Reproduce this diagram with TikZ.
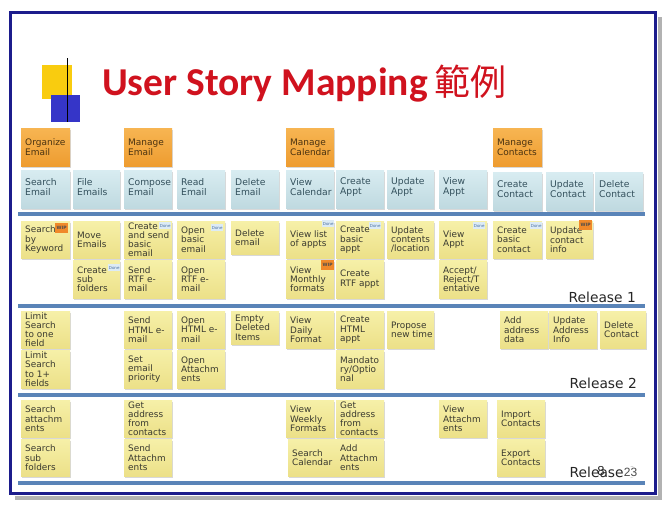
\documentclass[tikz,border=0pt]{standalone}
\usepackage{fontspec}
\setmainfont{DejaVu Sans}
\newfontfamily\titlefont{Carlito}
\newfontfamily\cjkfont{Noto Sans CJK TC}
\newfontfamily\pagefont{Liberation Sans}
\usetikzlibrary{shadows}
\definecolor{framecol}{HTML}{1C1C8C}
\definecolor{titlered}{HTML}{D0121E}
\definecolor{sqyellow}{HTML}{F9CC0F}
\definecolor{sqblue}{HTML}{3535C8}
\definecolor{sepcol}{HTML}{5A84B8}
\definecolor{orangetop}{HTML}{F7B552}
\definecolor{orangebot}{HTML}{EE9C30}
\definecolor{bluetop}{HTML}{D8ECF1}
\definecolor{bluebot}{HTML}{BFD9E0}
\definecolor{yellowtop}{HTML}{F6F0A8}
\definecolor{yellowbot}{HTML}{ECE088}
\definecolor{wipcol}{HTML}{F0892A}
\definecolor{donecol}{HTML}{DCEBF6}
\definecolor{donetxt}{HTML}{4A6FA0}
\definecolor{notetxt}{HTML}{3A3A30}
\definecolor{bluetxt}{HTML}{33505C}
\definecolor{orangetxt}{HTML}{4A3210}

\newcommand\stick[7]{%
  \node[#2, minimum width=#5pt, minimum height=#6pt, anchor=north west] (#1) at (#3,#4) {};
  \node[#2txt, anchor=west] (#1t) at ([xshift=4pt]#1.west) {#7};
}

\begin{document}
\begin{tikzpicture}[x=1pt,y=-1pt,
  notebase/.style={inner sep=0pt, drop shadow={opacity=0.3, shadow xshift=1.2pt, shadow yshift=-1.5pt}},
  orangenote/.style={notebase, top color=orangetop, bottom color=orangebot},
  bluenote/.style={notebase, top color=bluetop, bottom color=bluebot},
  yellownote/.style={notebase, top color=yellowtop, bottom color=yellowbot},
  orangenotetxt/.style={inner sep=0pt, align=left, font=\fontsize{9}{10}\selectfont, text=orangetxt},
  bluenotetxt/.style={inner sep=0pt, align=left, font=\fontsize{9.2}{10}\selectfont, text=bluetxt, yshift=2pt},
  yellownotetxt/.style={inner sep=0pt, align=left, font=\fontsize{8.9}{9.2}\selectfont, text=notetxt},
  wiptag/.style={fill=wipcol, inner sep=0pt, minimum width=13pt, minimum height=10pt, font=\fontsize{4.5}{5}\selectfont\bfseries, text=black!70, anchor=north east},
  donetag/.style={fill=donecol, inner sep=0pt, minimum width=12pt, minimum height=7pt, font=\fontsize{4}{5}\selectfont, text=donetxt, anchor=north east},
  sepline/.style={line width=4pt, sepcol},
  reltxt/.style={font=\fontsize{13.8}{14}\selectfont, text=black!85, anchor=east, inner sep=0pt}
]
\useasboundingbox (0,0) rectangle (665,506);
\fill[white] (0,0) rectangle (665,506);

% frame with shadow
\draw[line width=3.5pt, black!30] (660,17) -- (660,498) -- (15,498);
\draw[line width=3pt, framecol] (10,12) rectangle (655,493);

% title decoration
\fill[sqyellow] (42,65) rectangle (72,99);
\fill[sqblue] (51,95) rectangle (80,122);
\draw[line width=1pt, black] (67,58) -- (67,122);

% title
\node[anchor=base west, inner sep=0pt, text=titlered] (title) at (102,95)
  {{\titlefont\bfseries\fontsize{39.5}{40}\selectfont User Story Mapping}\hspace{7pt}{\cjkfont\fontsize{36}{40}\selectfont 範例}};

% separator lines
\draw[sepline] (18,214) -- (645,214);
\draw[sepline] (18,306) -- (645,306);
\draw[sepline] (18,395) -- (645,395);
\draw[sepline] (18,483) -- (645,483);

% orange activities
\stick{oa}{orangenote}{21}{128}{49}{38}{Organize\\Email}
\stick{ob}{orangenote}{124}{128}{48}{38}{Manage\\Email}
\stick{oc}{orangenote}{286}{128}{48}{38}{Manage\\Calendar}
\stick{od}{orangenote}{493}{128}{49}{38}{Manage\\Contacts}

% blue tasks
\stick{b1}{bluenote}{21}{170}{49}{38}{Search\\Email}
\stick{b2}{bluenote}{73}{170}{47}{38}{File\\Emails}
\stick{b3}{bluenote}{124}{170}{48}{38}{Compose\\Email}
\stick{b4}{bluenote}{177}{170}{48}{38}{Read\\Email}
\stick{b5}{bluenote}{231}{170}{48}{38}{Delete\\Email}
\stick{b6}{bluenote}{286}{170}{48}{38}{View\\Calendar}
\stick{b7}{bluenote}{336}{170}{48}{38}{Create\\Appt}
\stick{b8}{bluenote}{387}{170}{47}{38}{Update\\Appt}
\stick{b9}{bluenote}{439}{170}{48}{38}{View\\Appt}
\stick{b10}{bluenote}{493}{172}{49}{38}{Create\\Contact}
\stick{b11}{bluenote}{546}{172}{47}{38}{Update\\Contact}
\stick{b12}{bluenote}{595}{172}{48}{38}{Delete\\Contact}

% release 1
\stick{a1}{yellownote}{21}{221}{49}{37}{Search\\by\\Keyword}
\stick{a2}{yellownote}{73}{221}{47}{37}{Move\\Emails}
\stick{a3}{yellownote}{124}{221}{48}{37}{Create\\and send\\basic\\email}
\stick{a4}{yellownote}{177}{221}{48}{37}{Open\\basic\\email}
\stick{a5}{yellownote}{231}{221}{48}{33}{Delete\\email}
\stick{a6}{yellownote}{286}{221}{48}{37}{View list\\of appts}
\stick{a7}{yellownote}{336}{221}{48}{37}{Create\\basic\\appt}
\stick{a8}{yellownote}{387}{221}{47}{37}{Update\\contents\\/location}
\stick{a9}{yellownote}{439}{221}{48}{37}{View\\Appt}
\stick{a10}{yellownote}{493}{221}{49}{37}{Create\\basic\\contact}
\stick{a11}{yellownote}{546}{221}{47}{37}{Update\\contact\\info}
\stick{a12}{yellownote}{73}{260}{47}{38}{Create\\sub\\folders}
\stick{a13}{yellownote}{124}{260}{48}{38}{Send\\RTF e-\\mail}
\stick{a14}{yellownote}{177}{260}{48}{38}{Open\\RTF e-\\mail}
\stick{a15}{yellownote}{286}{260}{48}{38}{View\\Monthly\\formats}
\stick{a16}{yellownote}{336}{260}{48}{38}{Create\\RTF appt}
\stick{a17}{yellownote}{439}{260}{48}{38}{Accept/\\Reject/T\\entative}

% tags release 1
\node[wiptag] (t1) at ([xshift=-2pt,yshift=-2pt]a1.north east) {WIP};
\node[donetag] (t2) at ([xshift=-1pt,yshift=-1pt]a3.north east) {Done};
\node[donetag] (t3) at ([xshift=-2pt,yshift=-3pt]a4.north east) {Done};
\node[donetag] (t4) at ([xshift=0pt,yshift=1pt]a6.north east) {Done};
\node[donetag] (t5) at ([xshift=-3pt,yshift=-1pt]a7.north east) {Done};
\node[donetag] (t6) at ([xshift=-2pt,yshift=-1pt]a9.north east) {Done};
\node[donetag] (t7) at ([xshift=0pt,yshift=-1pt]a10.north east) {Done};
\node[wiptag] (t8) at ([xshift=-1pt,yshift=1pt]a11.north east) {WIP};
\node[donetag] (t9) at ([xshift=0pt,yshift=-4pt]a12.north east) {Done};
\node[wiptag] (t10) at ([xshift=0pt,yshift=0pt]a15.north east) {WIP};

\node[reltxt] (r1) at (636,297) {Release 1};

% release 2
\stick{c1}{yellownote}{21}{311}{49}{37}{Limit\\Search\\to one\\field}
\stick{c2}{yellownote}{124}{311}{48}{37}{Send\\HTML e-\\mail}
\stick{c3}{yellownote}{177}{311}{48}{37}{Open\\HTML e-\\mail}
\stick{c4}{yellownote}{231}{311}{48}{33}{Empty\\Deleted\\Items}
\stick{c5}{yellownote}{286}{311}{48}{37}{View\\Daily\\Format}
\stick{c6}{yellownote}{336}{311}{48}{37}{Create\\HTML\\appt}
\stick{c7}{yellownote}{387}{311}{47}{37}{Propose\\new time}
\stick{c8}{yellownote}{500}{311}{48}{37}{Add\\address\\data}
\stick{c9}{yellownote}{549}{311}{48}{37}{Update\\Address\\Info}
\stick{c10}{yellownote}{600}{311}{46}{37}{Delete\\Contact}
\stick{c11}{yellownote}{21}{350}{49}{38}{Limit\\Search\\to 1+\\fields}
\stick{c12}{yellownote}{124}{350}{48}{38}{Set\\email\\priority}
\stick{c13}{yellownote}{177}{350}{48}{38}{Open\\Attachm\\ents}
\stick{c14}{yellownote}{336}{350}{48}{38}{Mandato\\ry/Optio\\nal}

\node[reltxt] (r2) at (637,383) {Release 2};

% release 3
\stick{d1}{yellownote}{21}{400}{49}{37}{Search\\attachm\\ents}
\stick{d2}{yellownote}{124}{400}{48}{37}{Get\\address\\from\\contacts}
\stick{d3}{yellownote}{286}{400}{48}{37}{View\\Weekly\\Formats}
\stick{d4}{yellownote}{336}{400}{48}{37}{Get\\address\\from\\contacts}
\stick{d5}{yellownote}{439}{400}{48}{37}{View\\Attachm\\ents}
\stick{d6}{yellownote}{497}{400}{48}{37}{Import\\Contacts}
\stick{d7}{yellownote}{21}{439}{49}{37}{Search\\sub\\folders}
\stick{d8}{yellownote}{124}{439}{48}{37}{Send\\Attachm\\ents}
\stick{d9}{yellownote}{288}{439}{48}{37}{Search\\Calendar}
\stick{d10}{yellownote}{336}{439}{48}{37}{Add\\Attachm\\ents}
\stick{d11}{yellownote}{497}{439}{48}{37}{Export\\Contacts}

\node[reltxt] (r3) at (637,472) {Release 3};
\node[fill=white, inner sep=0.5pt, anchor=east, text=black!70, font=\pagefont\fontsize{12}{12}\selectfont] (pg) at (638,472) {23};
\node[inner sep=0pt, text=black!85, font=\pagefont\fontsize{13}{13}\selectfont] (pg8) at (601,471) {8};
\end{tikzpicture}
\end{document}
